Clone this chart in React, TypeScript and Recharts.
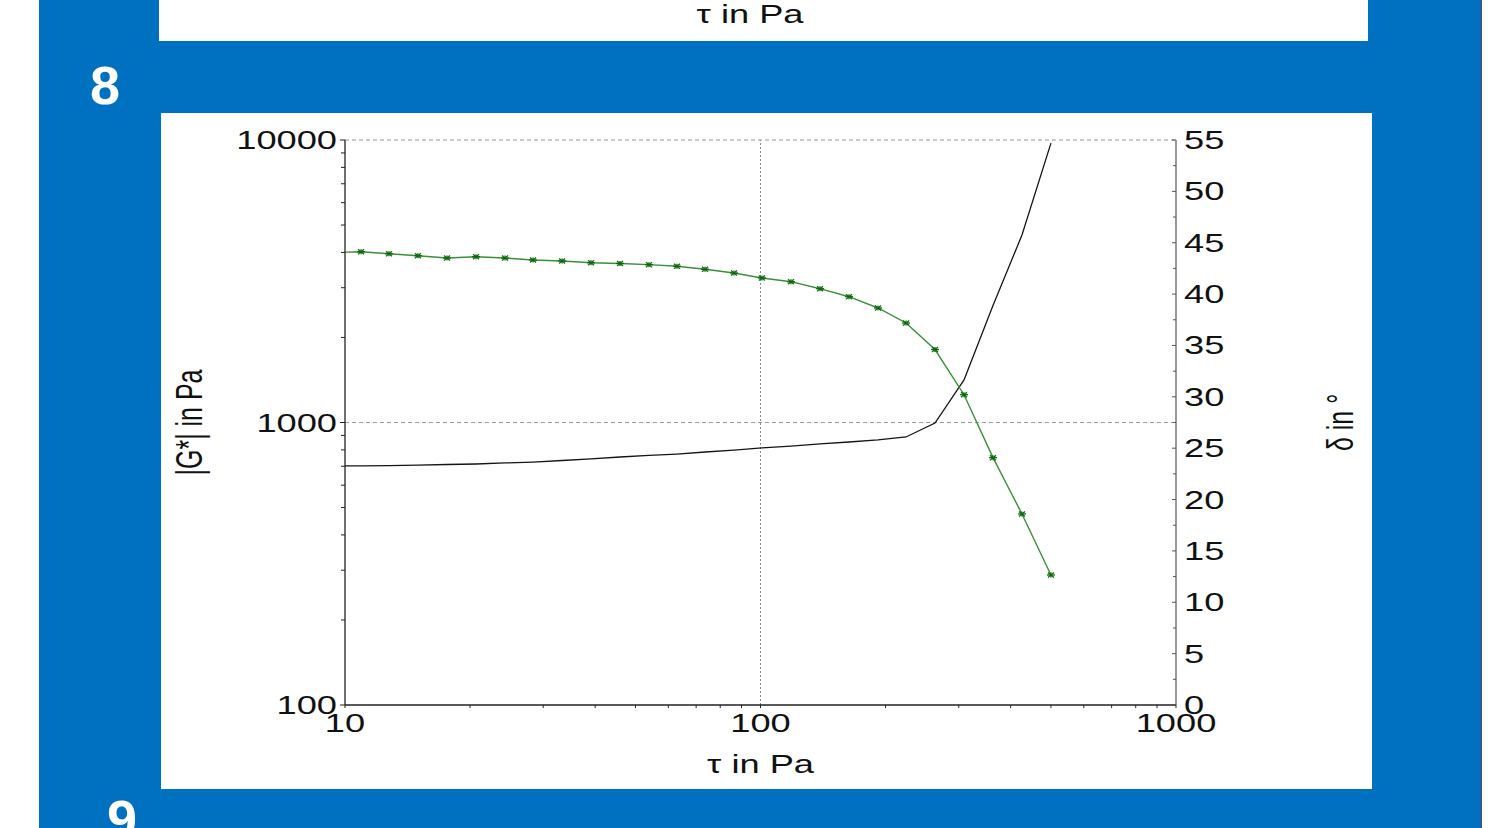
import React from 'react';
import { LineChart, Line, XAxis, YAxis, ReferenceLine, Label } from 'recharts';

// Shear stress tau (Pa)
const tauValues = [10, 10.93, 12.76, 14.98, 17.6, 20.67, 24.28, 28.35, 33.3, 39.1, 45.91, 53.89, 62.95, 73.53, 86.35, 100.8, 118.4, 139.1, 163.3, 191.8, 224.0, 263.0, 308.9, 362.7, 425.9, 500.1];
// |G*| (Pa)
const gModulus = [4010, 4023, 3958, 3894, 3822, 3863, 3822, 3760, 3730, 3679, 3655, 3620, 3573, 3487, 3383, 3248, 3151, 2976, 2788, 2543, 2250, 1813, 1254, 751, 474.5, 288.5];
// phase angle delta (deg)
const phaseAngle = [23.27, 23.28, 23.31, 23.36, 23.41, 23.46, 23.56, 23.65, 23.8, 23.95, 24.14, 24.29, 24.43, 24.63, 24.82, 25.02, 25.21, 25.41, 25.6, 25.8, 26.09, 27.45, 31.64, 38.9, 45.75, 54.7];

const xMajorTicks = [10, 100, 1000];
const xMinorTicks = [20, 30, 40, 50, 60, 70, 80, 90, 200, 300, 400, 500, 600, 700, 800, 900];
const gMajorTicks = [100, 1000, 10000];
const gMinorTicks = [200, 300, 400, 500, 600, 700, 800, 900, 2000, 3000, 4000, 5000, 6000, 7000, 8000, 9000];
const deltaMajorTicks = [0, 5, 10, 15, 20, 25, 30, 35, 40, 45, 50, 55];
const deltaMinorTicks = [2.5, 7.5, 12.5, 17.5, 22.5, 27.5, 32.5, 37.5, 42.5, 47.5, 52.5];

const xTitle = 'τ in Pa';
const leftTitle = '|G*| in Pa';
const rightTitle = 'δ in °';

const data = tauValues.map((t, i) => ({ tau: t, g: gModulus[i], delta: phaseAngle[i] }));

const FONT = '"Liberation Sans", Arial, sans-serif';
const SX = 1.45;
const FS = 25;
const TXT = '#111';

const LeftTick = (props: any) => {
  const { x, y, payload } = props;
  const major = gMajorTicks.includes(payload.value);
  return (
    <g>
      <line x1={x - (major ? 5 : 4)} x2={x} y1={y} y2={y} stroke="#222" strokeWidth={1} />
      {major && (
        <text transform={`translate(${x - 8},${y + 9}) scale(${SX},1)`} textAnchor="end" fontSize={FS} fontFamily={FONT} fill={TXT}>
          {payload.value}
        </text>
      )}
    </g>
  );
};

const RightTick = (props: any) => {
  const { x, y, payload } = props;
  const major = deltaMajorTicks.includes(payload.value);
  return (
    <g>
      <line x1={x - (major ? 4 : 3)} x2={x} y1={y} y2={y} stroke="#555" strokeWidth={1} />
      {major && (
        <text transform={`translate(${x + 8},${y + 9}) scale(${SX},1)`} textAnchor="start" fontSize={FS} fontFamily={FONT} fill={TXT}>
          {payload.value}
        </text>
      )}
    </g>
  );
};

const BottomTick = (props: any) => {
  const { x, y, payload } = props;
  const major = xMajorTicks.includes(payload.value);
  return (
    <g>
      <line x1={x} x2={x} y1={y} y2={y + 3} stroke="#222" strokeWidth={1} />
      {major && (
        <text transform={`translate(${x},${y + 27}) scale(${SX},1)`} textAnchor="middle" fontSize={FS} fontFamily={FONT} fill={TXT}>
          {payload.value}
        </text>
      )}
    </g>
  );
};

const Asterisk = (props: any) => {
  const { cx, cy, index } = props;
  if (index === 0 || cx == null || cy == null) return <g key={`a${index}`} />;
  const c = '#0a6a0a';
  return (
    <g key={`a${index}`} stroke={c} strokeWidth={1.3}>
      <line x1={cx - 4} x2={cx + 4} y1={cy} y2={cy} />
      <line x1={cx - 3} x2={cx + 3} y1={cy - 2.5} y2={cy + 2.5} />
      <line x1={cx - 3} x2={cx + 3} y1={cy + 2.5} y2={cy - 2.5} />
      <line x1={cx} x2={cx} y1={cy - 2.5} y2={cy + 2.5} />
    </g>
  );
};

const BottomTitle = (props: any) => {
  const vb = props.viewBox || { x: 0, y: 0, width: 0, height: 0 };
  const cx = vb.x + vb.width / 2;
  return (
    <text transform={`translate(${cx},${vb.y + 68}) scale(${SX},1)`} textAnchor="middle" fontSize={FS} fontFamily={FONT} fill={TXT}>
      {xTitle}
    </text>
  );
};

const LeftTitle = (props: any) => {
  const vb = props.viewBox || { x: 0, y: 0, width: 0, height: 0 };
  const cy = vb.y + vb.height / 2;
  return (
    <text transform={`translate(${vb.x + 41},${cy}) scale(${SX},1) rotate(-90)`} textAnchor="middle" fontSize={FS} fontFamily={FONT} fill={TXT}>
      {leftTitle}
    </text>
  );
};

const RightTitle = (props: any) => {
  const vb = props.viewBox || { x: 0, y: 0, width: 0, height: 0 };
  const cy = vb.y + vb.height / 2;
  return (
    <text transform={`translate(${vb.x + 177},${cy}) scale(${SX},1) rotate(-90)`} textAnchor="middle" fontSize={FS} fontFamily={FONT} fill={TXT}>
      {rightTitle}
    </text>
  );
};

export default function App() {
  return (
    <div style={{ position: 'absolute', left: 0, top: 0, width: 1496, height: 828, overflow: 'hidden', background: '#ffffff' }}>
      <div style={{ position: 'absolute', left: 39, top: 0, width: 1443, height: 828, background: '#0070C0', borderRight: '2px solid #2d5a96', boxSizing: 'border-box' }} />
      <div style={{ position: 'absolute', left: 159, top: 0, width: 1209, height: 41, background: '#ffffff' }} />
      <div style={{ position: 'absolute', left: 161, top: 113, width: 1211, height: 676, background: '#ffffff' }}>
        <LineChart width={1211} height={676} data={data} margin={{ top: 27, right: 0, bottom: 0, left: 0 }}>
          <XAxis
            dataKey="tau"
            type="number"
            scale="log"
            domain={[10, 1000]}
            allowDataOverflow
            ticks={[...xMajorTicks, ...xMinorTicks]}
            interval={0}
            tick={<BottomTick />}
            tickLine={false}
            tickSize={0}
            tickMargin={0}
            height={84}
            axisLine={{ stroke: '#222', strokeWidth: 1.3 }}
          >
            <Label content={<BottomTitle />} />
          </XAxis>
          <YAxis
            yAxisId="left"
            type="number"
            scale="log"
            domain={[100, 10000]}
            allowDataOverflow
            ticks={[...gMajorTicks, ...gMinorTicks]}
            interval={0}
            tick={<LeftTick />}
            tickLine={false}
            tickSize={0}
            tickMargin={0}
            width={184}
            axisLine={{ stroke: '#222', strokeWidth: 1.3 }}
          >
            <Label content={<LeftTitle />} />
          </YAxis>
          <YAxis
            yAxisId="right"
            orientation="right"
            type="number"
            domain={[0, 55]}
            allowDataOverflow
            ticks={[...deltaMajorTicks, ...deltaMinorTicks]}
            interval={0}
            tick={<RightTick />}
            tickLine={false}
            tickSize={0}
            tickMargin={0}
            width={196}
            axisLine={{ stroke: '#555', strokeWidth: 1.2 }}
          >
            <Label content={<RightTitle />} />
          </YAxis>
          <ReferenceLine yAxisId="left" y={10000} stroke="#999" strokeDasharray="4 3" strokeWidth={1} />
          <ReferenceLine yAxisId="left" y={1000} stroke="#999" strokeDasharray="4 3" strokeWidth={1} />
          <ReferenceLine yAxisId="left" x={100} stroke="#888" strokeDasharray="2 2" strokeWidth={1} />
          <Line yAxisId="right" dataKey="delta" stroke="#151515" strokeWidth={1.3} dot={false} isAnimationActive={false} />
          <Line yAxisId="left" dataKey="g" stroke="#3a8f3a" strokeWidth={1.4} dot={(p: any) => <Asterisk key={`d${p.index}`} {...p} />} activeDot={false} isAnimationActive={false} />
        </LineChart>
      </div>
      <svg width={1496} height={828} style={{ position: 'absolute', left: 0, top: 0, pointerEvents: 'none' }}>
        <text transform={`translate(750,23) scale(${SX},1)`} textAnchor="middle" fontSize={FS} fontFamily={FONT} fill={TXT}>
          {xTitle}
        </text>
        <text x={105} y={104} textAnchor="middle" fontSize={54} fontWeight="bold" fontFamily={FONT} fill="#ffffff">8</text>
        <text x={122} y={838} textAnchor="middle" fontSize={54} fontWeight="bold" fontFamily={FONT} fill="#ffffff">9</text>
      </svg>
    </div>
  );
}
